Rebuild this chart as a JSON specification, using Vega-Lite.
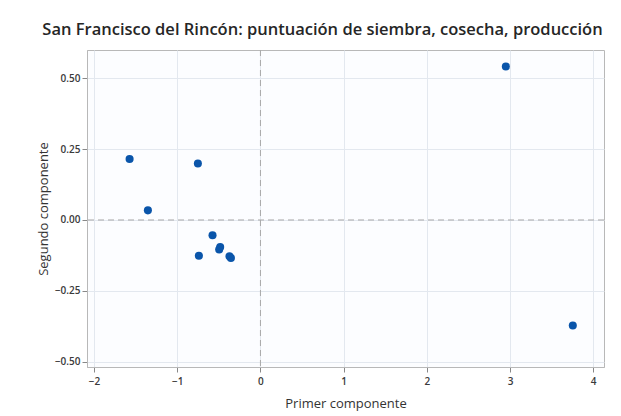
{
  "$schema": "https://vega.github.io/schema/vega-lite/v6.json",
  "autosize": {"type": "none"},
  "width": 517,
  "height": 317,
  "padding": {"left": 87, "top": 50, "right": 17, "bottom": 49},
  "background": "#ffffff",
  "title": {
    "text": "San Francisco del Rincón: puntuación de siembra, cosecha, producción",
    "font": "Open Sans",
    "fontSize": 16.5,
    "fontWeight": 600,
    "color": "#262626",
    "anchor": "middle",
    "dx": -23,
    "offset": 11
  },
  "config": {
    "view": {"stroke": "#b8b8b8", "fill": "#fcfdff"},
    "axis": {
      "labelFont": "Open Sans",
      "titleFont": "Open Sans",
      "labelFontSize": 10,
      "labelFontWeight": 600,
      "labelColor": "#3a3a3a",
      "titleFontSize": 13,
      "titleFontWeight": 500,
      "titleColor": "#333333",
      "gridColor": "#e3e8ef",
      "domainColor": "#b8b8b8",
      "tickColor": "#888888",
      "tickSize": 5
    }
  },
  "layer": [
    {
      "data": {"values": [
        {"pc1": 2.95, "pc2": 0.541},
        {"pc1": 3.755, "pc2": -0.372},
        {"pc1": -1.573, "pc2": 0.215},
        {"pc1": -0.752, "pc2": 0.199},
        {"pc1": -1.353, "pc2": 0.034},
        {"pc1": -0.576, "pc2": -0.054},
        {"pc1": -0.484, "pc2": -0.095},
        {"pc1": -0.496, "pc2": -0.104},
        {"pc1": -0.740, "pc2": -0.126},
        {"pc1": -0.372, "pc2": -0.128},
        {"pc1": -0.355, "pc2": -0.134}
      ]},
      "mark": {"type": "point", "filled": true, "opacity": 1, "size": 65, "color": "#0a55aa"},
      "encoding": {
        "x": {
          "field": "pc1", "type": "quantitative",
          "scale": {"domain": [-2.085, 4.13], "nice": false, "zero": false},
          "axis": {"values": [-2, -1, 0, 1, 2, 3, 4], "title": "Primer componente", "format": "d", "titlePadding": 11, "labelPadding": 4}
        },
        "y": {
          "field": "pc2", "type": "quantitative",
          "scale": {"domain": [-0.518, 0.599], "nice": false, "zero": false},
          "axis": {"values": [-0.5, -0.25, 0, 0.25, 0.5], "title": "Segundo componente", "format": ".2f", "titlePadding": 4, "labelPadding": 2}
        }
      }
    },
    {
      "data": {"values": [{"v": 0}]},
      "mark": {"type": "rule", "strokeDash": [6, 4], "color": "#a8a8a8", "strokeWidth": 1},
      "encoding": {"x": {"field": "v", "type": "quantitative"}}
    },
    {
      "data": {"values": [{"v": 0}]},
      "mark": {"type": "rule", "strokeDash": [6, 4], "color": "#a8a8a8", "strokeWidth": 1},
      "encoding": {"y": {"field": "v", "type": "quantitative"}}
    }
  ]
}
